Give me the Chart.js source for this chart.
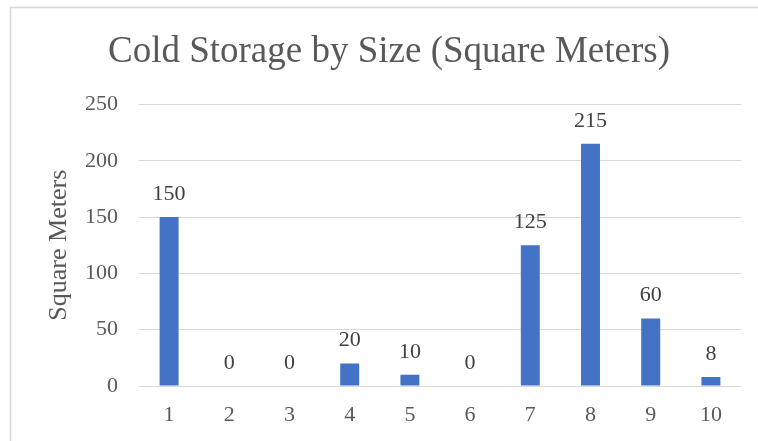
<!DOCTYPE html>
<html>
<head>
<meta charset="utf-8">
<script src="https://cdn.jsdelivr.net/npm/chart.js@4/dist/chart.umd.min.js"></script>
<style>
  html, body { margin: 0; padding: 0; background: #ffffff; }
  #wrap { width: 758px; height: 441px; position: relative; }
</style>
</head>
<body>
<div id="wrap"><canvas id="chart"></canvas></div>
<script>
// Cold storage sizes, one bar per storage unit
const categories = ['1', '2', '3', '4', '5', '6', '7', '8', '9', '10'];
const squareMeters = [150, 0, 0, 20, 10, 0, 125, 215, 60, 8];
const yTicks = [0, 50, 100, 150, 200, 250];

const SERIF = "'Liberation Serif', 'Times New Roman', serif";

// Light frame around the whole chart
const framePlugin = {
  id: 'frame',
  beforeDraw(chart) {
    const ctx = chart.ctx;
    ctx.save();
    ctx.fillStyle = '#ffffff';
    ctx.fillRect(0, 0, chart.width, chart.height);
    ctx.strokeStyle = '#d9d9d9';
    ctx.lineWidth = 1.5;
    ctx.strokeRect(10.5, 7.5, chart.width + 20, chart.height + 20);
    ctx.restore();
  }
};

// Value labels above each bar
const valueLabels = {
  id: 'valueLabels',
  afterDatasetsDraw(chart) {
    const ctx = chart.ctx;
    const meta = chart.getDatasetMeta(0);
    const data = chart.data.datasets[0].data;
    ctx.save();
    ctx.font = '22px ' + SERIF;
    ctx.fillStyle = '#404040';
    ctx.textAlign = 'center';
    ctx.textBaseline = 'alphabetic';
    meta.data.forEach((bar, i) => {
      ctx.fillText(String(data[i]), bar.x, bar.y - 17);
    });
    ctx.restore();
  }
};

new Chart(document.getElementById('chart'), {
  type: 'bar',
  data: {
    labels: categories,
    datasets: [{
      label: 'Square Meters',
      data: squareMeters,
      backgroundColor: '#4472C4',
      borderWidth: 0,
      categoryPercentage: 1.0,
      barPercentage: 0.315
    }]
  },
  options: {
    responsive: true,
    maintainAspectRatio: false,
    animation: false,
    layout: { padding: { left: 37, right: 17, top: 0, bottom: 0 } },
    plugins: {
      legend: { display: false },
      tooltip: { enabled: false },
      title: {
        display: true,
        text: 'Cold Storage by Size (Square Meters)',
        color: '#595959',
        font: { family: SERIF, size: 37, weight: 'normal' },
        padding: { top: 30, bottom: 30 }
      }
    },
    scales: {
      x: {
        afterFit(scale) { scale.height = 55; },
        grid: { display: false, drawTicks: false },
        border: { display: false },
        ticks: {
          color: '#595959',
          font: { family: SERIF, size: 22 },
          padding: 16,
          maxRotation: 0
        }
      },
      y: {
        min: 0,
        max: 250,
        afterBuildTicks(scale) {
          scale.ticks = yTicks.map(v => ({ value: v }));
        },
        afterFit(scale) { scale.width = 102; },
        grid: { color: '#d9d9d9', lineWidth: 1, drawTicks: false },
        border: { display: false },
        ticks: {
          color: '#595959',
          font: { family: SERIF, size: 22 },
          padding: 21
        },
        title: {
          display: true,
          text: 'Square Meters',
          color: '#595959',
          font: { family: SERIF, size: 26, weight: 'normal' },
          padding: { top: 7, bottom: 0 }
        }
      }
    }
  },
  plugins: [framePlugin, valueLabels]
});
</script>
</body>
</html>
